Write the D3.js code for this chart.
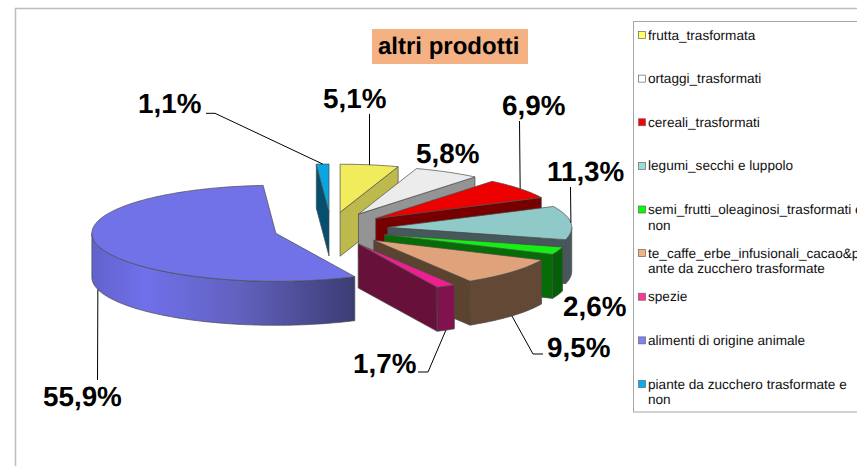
<!DOCTYPE html>
<html>
<head>
<meta charset="utf-8">
<script src="https://cdn.jsdelivr.net/npm/d3@7"></script>
<style>
  html, body { margin: 0; padding: 0; background: #fff; overflow: hidden; }
  svg { display: block; font-family: "Liberation Sans", Arial, sans-serif; text-rendering: geometricPrecision; }
</style>
</head>
<body>
<svg width="857" height="466"></svg>
<script>
// data
const categories = ["frutta_trasformata", "ortaggi_trasformati", "cereali_trasformati",
  "legumi_secchi e luppolo", "semi_frutti_oleaginosi_trasformati e non",
  "te_caffe_erbe_infusionali_cacao&piante da zucchero trasformate", "spezie",
  "alimenti di origine animale", "piante da zucchero trasformate e non"];
const values = [5.1, 5.8, 6.9, 11.3, 2.6, 9.5, 1.7, 55.9, 1.1];
const legendLines = [["frutta_trasformata"], ["ortaggi_trasformati"], ["cereali_trasformati"],
  ["legumi_secchi e luppolo"], ["semi_frutti_oleaginosi_trasformati e", "non"],
  ["te_caffe_erbe_infusionali_cacao&p", "ante da zucchero trasformate"], ["spezie"],
  ["alimenti di origine animale"], ["piante da zucchero trasformate e", "non"]];

// colours, same order as categories
const topColors = ["#f0ec5c", "#ececec", "#ec0000", "#90cac8", "#14f014", "#e0a27a", "#ee2090", "#7272e8", "#0aa6e2"];
const faceColors = ["#bdb94c", "#949494", "#760000", "#46585b", "#066c06", "#5c4330", "#66103a", "#4a4a9a", "#05506e"];
const wallColors = ["#bdb94c", "#949494", "#760000", "#46585b", "#056005", "#634835", "#80124e", "url(#blueWall)", "#05506e"];
const legendColors = ["#ffff66", "#ffffff", "#ff0000", "#99dddd", "#00ff00", "#f4b183", "#ff3399", "#8080ff", "#00b0f0"];

// label placement: text x, baseline, and the leader's elbows (empty = none)
const labelPos = [
  { x: 323, y: 108, leader: [[369.5, 114]] },
  { x: 416, y: 163, leader: [] },
  { x: 502, y: 115, leader: [[519.5, 121]] },
  { x: 547, y: 181, leader: [[570.5, 187]] },
  { x: 563, y: 316, leader: [] },
  { x: 547, y: 357, leader: [[533, 354], [543, 354]] },
  { x: 353, y: 373, leader: [[428, 372], [418, 372]] },
  { x: 43, y: 406, leader: [[97.5, 380]] },
  { x: 138, y: 113, leader: [[215, 113.3], [206, 113.3]] }
];

const svg = d3.select("svg");
const cx = 331, cy = 229, rx = 184, ry = 48, depth = 44, explodeX = 57, explodeY = 17;

// unit circle -> ellipse on screen
const xScale = d3.scaleLinear().domain([-1, 1]).range([-rx, rx]);
const yScale = d3.scaleLinear().domain([-1, 1]).range([-ry, ry]);
const xExplode = d3.scaleLinear().domain([-1, 1]).range([cx - explodeX, cx + explodeX]);
const yExplode = d3.scaleLinear().domain([-1, 1]).range([cy - explodeY, cy + explodeY]);

const pie = d3.pie().sort(null).value(d => d);
const slices = pie(values).map((d, i) => {
  const mid = (d.startAngle + d.endAngle) / 2;
  return {
    i: i, a0: d.startAngle, a1: d.endAngle, mid: mid,
    ox: xExplode(Math.sin(mid)), oy: yExplode(-Math.cos(mid))
  };
});

const rim = (s, a) => [s.ox + xScale(Math.sin(a)), s.oy + yScale(-Math.cos(a))];
const line = d3.line();
const arcPts = (s, a0, a1) => {
  const n = Math.max(2, Math.ceil((a1 - a0) / 0.02));
  return d3.range(n + 1).map(k => rim(s, a0 + (a1 - a0) * k / n));
};
const down = p => [p[0], p[1] + depth];

// blue wall fades to dark going right
const grad = svg.append("defs").append("linearGradient")
  .attr("id", "blueWall").attr("gradientUnits", "userSpaceOnUse")
  .attr("x1", 92).attr("x2", 355).attr("y1", 0).attr("y2", 0);
grad.append("stop").attr("offset", "0").attr("stop-color", "#6262cc");
grad.append("stop").attr("offset", "0.2").attr("stop-color", "#7070ea");
grad.append("stop").attr("offset", "0.55").attr("stop-color", "#6262c0");
grad.append("stop").attr("offset", "1").attr("stop-color", "#3c3c74");

// frame
svg.append("path").attr("d", "M15.5,466V8.5H857").attr("fill", "none").attr("stroke", "#bdbdbd").attr("stroke-width", 1.5);

// back to front
const drawOrder = [8, 0, 1, 2, 3, 4, 5, 6, 7];
const pieG = svg.append("g").attr("stroke", "#4a4a4a").attr("stroke-width", 0.7).attr("stroke-linejoin", "round");
drawOrder.forEach(i => {
  const s = slices[i];
  const g = pieG.append("g");
  const apex = [s.ox, s.oy];
  const radial = a => {
    const p = rim(s, a);
    g.append("path").attr("d", line([apex, p, down(p), down(apex)]) + "Z").attr("fill", faceColors[i]);
  };
  if (Math.sin(s.a0) < -1e-6) radial(s.a0);
  if (Math.sin(s.a1) > 1e-6) radial(s.a1);
  // outer wall: only the front half of the ellipse
  const w0 = Math.max(s.a0, Math.PI / 2), w1 = Math.min(s.a1, Math.PI * 1.5);
  if (w1 > w0) {
    const pts = arcPts(s, w0, w1);
    g.append("path").attr("d", line(pts.concat(pts.map(down).reverse())) + "Z").attr("fill", wallColors[i]);
  }
  g.append("path").attr("d", line([apex].concat(arcPts(s, s.a0, s.a1))) + "Z").attr("fill", topColors[i]);
});

// leaders
const leaderG = svg.append("g").attr("fill", "none").attr("stroke", "#000").attr("stroke-width", 1);
labelPos.forEach((l, i) => {
  if (!l.leader.length) return;
  const s = slices[i];
  let p = rim(s, s.mid);
  if (Math.cos(s.mid) < 0) p = down(p);
  leaderG.append("path").attr("d", line([p].concat(l.leader)));
});

// percent labels
svg.append("g").selectAll("text").data(values).enter().append("text")
  .attr("x", (d, i) => labelPos[i].x)
  .attr("y", (d, i) => labelPos[i].y)
  .attr("font-size", 27.8).attr("font-weight", "bold").attr("fill", "#000")
  .text(d => d3.format(".1f")(d).replace(".", ",") + "%");

// title
svg.append("rect").attr("x", 372).attr("y", 29).attr("width", 156).attr("height", 35).attr("fill", "#f4b183");
svg.append("text").attr("x", 378).attr("y", 54).attr("font-size", 24).attr("font-weight", "bold").text("altri prodotti");

// legend
svg.append("rect").attr("x", 633.5).attr("y", 21.5).attr("width", 240).attr("height", 390.5)
  .attr("fill", "#fff").attr("stroke", "#a6a6a6").attr("stroke-width", 1);
const legendY = d3.scalePoint().domain(categories).range([35, 384]);
const item = svg.append("g").selectAll("g").data(categories).enter().append("g")
  .attr("transform", d => `translate(638,${legendY(d)})`);
item.append("rect").attr("x", 0.5).attr("y", -3.5).attr("width", 7).attr("height", 7)
  .attr("fill", (d, i) => legendColors[i]).attr("stroke", "#666").attr("stroke-width", 0.7);
item.each(function (d, i) {
  d3.select(this).selectAll("text").data(legendLines[i]).enter().append("text")
    .attr("x", 10).attr("y", (t, k) => 4.5 + k * 15.5)
    .attr("font-size", 13.6).attr("fill", "#111").text(t => t);
});
</script>
</body>
</html>
